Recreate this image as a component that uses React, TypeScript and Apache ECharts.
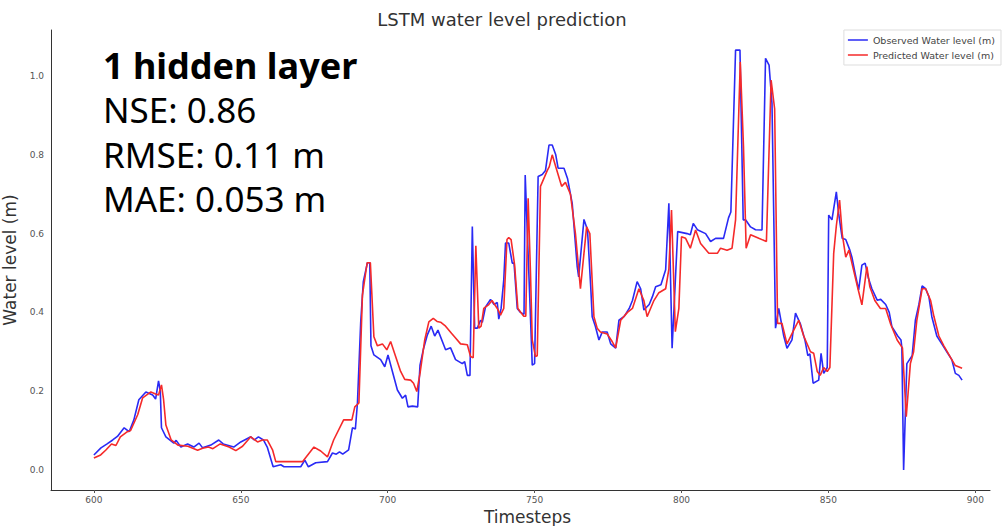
import React, { useEffect, useRef } from "react";
import * as echarts from "echarts";

// Observed water level (blue): timesteps and values
const obsT = [600, 602.4, 604.5, 606.4, 608, 610.3, 612, 613.6, 615.3, 617.7, 620, 621, 622, 622.6, 623, 624.5, 627.2, 628, 629.6, 631.9, 634, 635.8, 637, 639.8, 642.5, 644, 647.6, 650, 653.4, 654.6, 656, 657.7, 659, 661, 663.6, 664.7, 670.4, 671.8, 673, 675.5, 679.5, 681.2, 682.5, 683.6, 684.7, 686.7, 688, 689, 689.7, 690.8, 691.7, 693.1, 693.9, 694.3, 695.3, 697.6, 699, 700.1, 701.6, 703.3, 705, 706.1, 706.9, 708.4, 710.2, 711, 712.1, 713.5, 714.8, 716, 717.1, 719.7, 721.4, 723.1, 725.4, 726.2, 727.1, 728, 728.8, 729.6, 730.5, 731.6, 732.2, 733.3, 735, 736.2, 737.3, 737.8, 738.6, 739.5, 740.1, 741.2, 742.4, 743, 744.1, 745.2, 746.4, 746.8, 749.2, 750, 751.2, 752.6, 753.7, 754.9, 756, 757.2, 758, 760, 761.2, 762.8, 764.5, 765, 766.8, 768, 769.1, 769.6, 770.7, 771.9, 773, 774.7, 775.9, 777.6, 778.7, 780.5, 782.2, 783.3, 784.9, 786.1, 787.2, 789, 790.1, 791.2, 793, 794.6, 795.7, 796.8, 798.7, 801.9, 803, 804, 805.4, 808.2, 809.9, 811.6, 814.3, 816, 816.8, 818.4, 819.9, 821, 821.8, 823.5, 825.2, 827.4, 828.6, 829.8, 830.8, 832, 833.1, 834.8, 835.9, 837.6, 838.8, 840.5, 842, 843, 843.7, 844.8, 846.7, 847.5, 848.4, 849.6, 850.1, 851.2, 852.7, 853.5, 854.7, 855.9, 857.3, 858, 859.2, 860.3, 861.4, 862.5, 863.6, 864.8, 866.6, 867.8, 869.5, 870.7, 871.6, 873.6, 874.7, 875, 875.6, 876.7, 878.5, 879.6, 880.8, 881.9, 883.1, 884.2, 885.2, 886.9, 888.6, 890.3, 892, 893.2, 894.4, 895.5];
const obsV = [0.038, 0.056, 0.066, 0.076, 0.085, 0.107, 0.097, 0.127, 0.178, 0.198, 0.19, 0.18, 0.226, 0.2, 0.107, 0.084, 0.068, 0.075, 0.058, 0.066, 0.058, 0.068, 0.056, 0.063, 0.076, 0.066, 0.058, 0.071, 0.084, 0.076, 0.084, 0.076, 0.058, 0.008, 0.013, 0.008, 0.008, 0.025, 0.008, 0.018, 0.021, 0.043, 0.04, 0.046, 0.04, 0.051, 0.107, 0.104, 0.17, 0.373, 0.478, 0.526, 0.526, 0.315, 0.292, 0.28, 0.262, 0.292, 0.25, 0.203, 0.182, 0.19, 0.16, 0.162, 0.16, 0.266, 0.305, 0.343, 0.365, 0.34, 0.355, 0.305, 0.31, 0.28, 0.27, 0.275, 0.24, 0.24, 0.618, 0.36, 0.36, 0.38, 0.375, 0.414, 0.433, 0.42, 0.425, 0.383, 0.41, 0.482, 0.576, 0.576, 0.525, 0.525, 0.41, 0.4, 0.395, 0.749, 0.266, 0.27, 0.745, 0.75, 0.76, 0.825, 0.825, 0.8, 0.766, 0.766, 0.74, 0.677, 0.516, 0.49, 0.636, 0.61, 0.465, 0.389, 0.364, 0.33, 0.35, 0.35, 0.32, 0.309, 0.38, 0.39, 0.41, 0.43, 0.478, 0.46, 0.406, 0.42, 0.44, 0.465, 0.47, 0.508, 0.677, 0.309, 0.605, 0.6, 0.597, 0.626, 0.61, 0.6, 0.58, 0.588, 0.588, 0.64, 0.655, 1.066, 1.066, 0.635, 0.635, 0.617, 0.61, 0.609, 1.045, 1.028, 0.93, 0.36, 0.41, 0.34, 0.309, 0.33, 0.398, 0.37, 0.33, 0.29, 0.295, 0.22, 0.228, 0.296, 0.245, 0.26, 0.647, 0.635, 0.706, 0.65, 0.588, 0.585, 0.558, 0.54, 0.495, 0.457, 0.52, 0.525, 0.487, 0.46, 0.431, 0.433, 0.42, 0.4, 0.364, 0.34, 0.33, 0.31, 0.0, 0.27, 0.29, 0.38, 0.42, 0.467, 0.46, 0.44, 0.389, 0.34, 0.32, 0.3, 0.28, 0.245, 0.24, 0.228];

// Predicted water level (red): timesteps and values
const predT = [600, 602.3, 604, 606, 607.5, 609, 611.4, 612.5, 614.9, 616.6, 619.4, 621, 622, 623, 623.7, 624.5, 626.3, 628.6, 632, 635.3, 637, 639, 640.5, 643, 646, 648.3, 650.6, 653.4, 655.7, 657.4, 659, 660.8, 661.9, 671, 674.9, 677.2, 679.5, 681.6, 685, 687.8, 688.8, 690.2, 691.4, 693, 694.1, 695.3, 696.5, 698.2, 699.7, 701, 702.7, 704.4, 705.8, 707.8, 708.8, 709.9, 711, 712.6, 714, 715.5, 716.8, 718, 719.7, 721.7, 723.1, 724.8, 727.1, 728.2, 729.1, 730, 731, 731.8, 732.7, 734.4, 735.5, 737.3, 738.4, 739.5, 740.6, 741.2, 742, 743.2, 744.3, 746.3, 747, 747.8, 748.6, 749.2, 750.3, 750.9, 752, 754.3, 755, 756, 757.2, 759.2, 760.5, 762.2, 763.9, 765.6, 767.7, 768.8, 770.2, 771.3, 772.4, 774.7, 776.4, 777.6, 779.3, 781.6, 783.3, 785.5, 787.2, 788.3, 790.6, 792.3, 794.6, 795.7, 796.6, 797.9, 799.1, 800, 801.4, 803, 804.8, 806.5, 809.3, 812.2, 813.3, 815.5, 817.2, 818.4, 820, 821.1, 822, 823.5, 826.3, 828.9, 830.5, 831.7, 832.7, 834.2, 835.9, 838.2, 839.9, 841.6, 843.9, 845, 846.2, 847.2, 848.4, 849.6, 850.5, 851.8, 852.7, 853.8, 854.7, 855.9, 857, 858, 859.9, 861.4, 863.1, 864.1, 865.8, 867.7, 869.5, 871.2, 873.4, 875.2, 876.5, 877.9, 879, 880.1, 881.9, 883.1, 884.8, 885.9, 887.6, 889.3, 891.6, 893.2, 895.5];
const predV = [0.03, 0.038, 0.05, 0.066, 0.062, 0.084, 0.097, 0.1, 0.14, 0.183, 0.198, 0.193, 0.19, 0.216, 0.18, 0.114, 0.076, 0.063, 0.06, 0.05, 0.055, 0.058, 0.054, 0.066, 0.058, 0.049, 0.06, 0.084, 0.071, 0.076, 0.076, 0.051, 0.021, 0.021, 0.058, 0.048, 0.033, 0.076, 0.127, 0.127, 0.16, 0.17, 0.444, 0.526, 0.526, 0.338, 0.315, 0.32, 0.305, 0.326, 0.288, 0.25, 0.23, 0.228, 0.22, 0.199, 0.245, 0.33, 0.376, 0.385, 0.377, 0.375, 0.365, 0.347, 0.335, 0.32, 0.318, 0.288, 0.285, 0.569, 0.36, 0.365, 0.41, 0.42, 0.43, 0.41, 0.393, 0.41, 0.585, 0.59, 0.585, 0.52, 0.41, 0.39, 0.39, 0.69, 0.5, 0.33, 0.288, 0.29, 0.72, 0.76, 0.77, 0.8, 0.77, 0.72, 0.73, 0.7, 0.6, 0.46, 0.617, 0.6, 0.389, 0.36, 0.35, 0.345, 0.326, 0.31, 0.38, 0.4, 0.41, 0.46, 0.43, 0.389, 0.43, 0.45, 0.46, 0.51, 0.66, 0.351, 0.41, 0.592, 0.588, 0.563, 0.609, 0.575, 0.55, 0.55, 0.563, 0.558, 0.563, 0.635, 1.036, 0.82, 0.563, 0.597, 0.588, 0.58, 0.99, 0.917, 0.372, 0.372, 0.32, 0.355, 0.38, 0.34, 0.3, 0.296, 0.25, 0.24, 0.26, 0.25, 0.26, 0.55, 0.62, 0.685, 0.6, 0.54, 0.558, 0.525, 0.465, 0.419, 0.516, 0.465, 0.43, 0.41, 0.41, 0.37, 0.33, 0.31, 0.135, 0.27, 0.3, 0.38, 0.46, 0.46, 0.43, 0.39, 0.34, 0.315, 0.285, 0.265, 0.258];

const xTicks = [600, 650, 700, 750, 800, 850, 900];
const yTicks = [0, 0.2, 0.4, 0.6, 0.8, 1.0];
const seriesNames = ["Observed Water level (m)", "Predicted Water level (m)"];
const annotLines = ["NSE: 0.86", "RMSE: 0.11 m", "MAE: 0.053 m"];
const annotTitle = "1 hidden layer";

export default function App() {
  const ref = useRef<HTMLDivElement>(null);
  useEffect(() => {
    if (!ref.current) return;
    const chart = echarts.init(ref.current, null, { renderer: "svg" });
    const obs = obsT.map((t, i) => [t, obsV[i]]);
    const pred = predT.map((t, i) => [t, predV[i]]);
    const axisLineStyle = { color: "#333", width: 1 };
    chart.setOption({
      animation: false,
      backgroundColor: "#fff",
      title: {
        text: "LSTM water level prediction",
        left: "center",
        top: 5,
        textStyle: { fontFamily: "DejaVu Sans", fontSize: 18, fontWeight: "normal", color: "#333" },
      },
      legend: {
        orient: "vertical",
        right: 3,
        top: 30,
        icon: "rect",
        itemWidth: 20,
        itemHeight: 1.5,
        itemGap: 5,
        padding: [5, 6, 5, 4],
        borderColor: "#ddd",
        borderWidth: 1,
        textStyle: { fontFamily: "DejaVu Sans", fontSize: 9.5, color: "#444" },
        data: seriesNames,
      },
      grid: { left: 51, right: 14, top: 30, bottom: 36, containLabel: false, outerBoundsMode: "none" },
      xAxis: {
        type: "value",
        min: 585.4,
        max: 905,
        name: "Timesteps",
        nameLocation: "middle",
        nameGap: 12,
        nameTextStyle: {
          fontFamily: "DejaVu Sans",
          fontSize: 17,
          lineHeight: 17,
          color: "#333",
          padding: [0, 0, 0, 14],
        },
        axisLine: { show: true, onZero: false, lineStyle: axisLineStyle },
        axisTick: { show: true, length: 3, customValues: xTicks, lineStyle: { color: "#555" } },
        axisLabel: {
          customValues: xTicks,
          fontFamily: "DejaVu Sans",
          fontSize: 9,
          color: "#555",
          margin: 5,
        },
        splitLine: { show: false },
      },
      yAxis: {
        type: "value",
        min: -0.051,
        max: 1.117,
        name: "Water level (m)",
        nameLocation: "middle",
        nameGap: 32,
        nameTextStyle: { fontFamily: "DejaVu Sans", fontSize: 17, color: "#333" },
        axisLine: { show: true, onZero: false, lineStyle: axisLineStyle },
        axisTick: { show: false },
        axisLabel: {
          customValues: yTicks,
          formatter: (v: number) => v.toFixed(1),
          fontFamily: "DejaVu Sans",
          fontSize: 9,
          color: "#555",
          margin: 7,
        },
        splitLine: { show: false },
      },
      series: [
        {
          name: seriesNames[0],
          type: "line",
          data: obs,
          showSymbol: false,
          symbol: "none",
          lineStyle: { color: "#2a2af5", width: 1.6 },
          itemStyle: { color: "#2a2af5" },
        },
        {
          name: seriesNames[1],
          type: "line",
          data: pred,
          showSymbol: false,
          symbol: "none",
          lineStyle: { color: "#f52a2a", width: 1.6 },
          itemStyle: { color: "#f52a2a" },
        },
      ],
      graphic: [
        {
          type: "text",
          left: 103,
          top: 47,
          style: { text: annotTitle, font: "bold 36px 'Noto Sans'", fill: "#000" },
        },
        ...annotLines.map((s, i) => ({
          type: "text",
          left: 103,
          top: 92 + i * 44.5,
          style: { text: s, font: "35px 'Noto Sans'", fill: "#000" },
        })),
      ],
    });
    return () => chart.dispose();
  }, []);
  return (
    <div
      ref={ref}
      style={{ position: "fixed", left: 0, top: 0, width: 1004, height: 526, background: "#fff" }}
    />
  );
}
